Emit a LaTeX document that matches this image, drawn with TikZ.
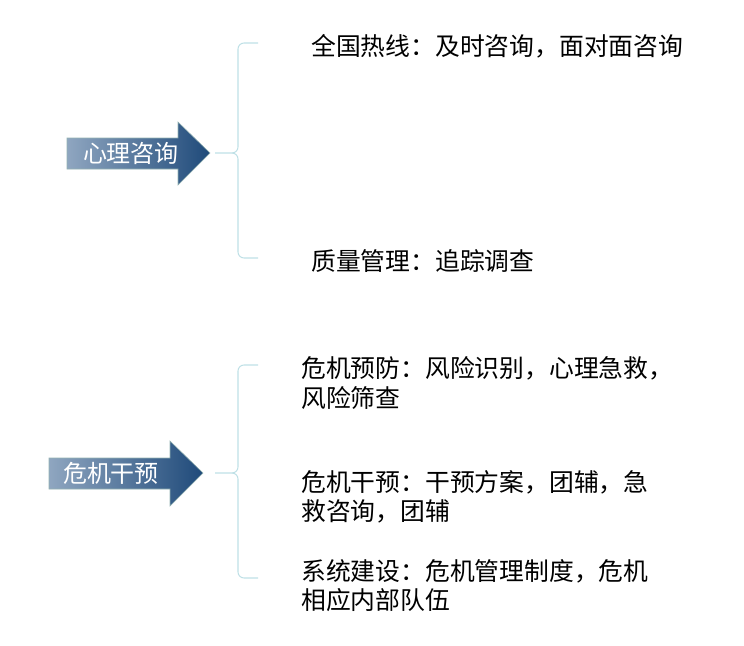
\documentclass[tikz,border=0pt]{standalone}
\usepackage{fontspec}
\setmainfont{Noto Sans CJK SC}
\begin{document}
\begin{tikzpicture}[x=0.75pt,y=-0.75pt,
  arr/.style={draw=gray!60!teal!60, left color=arrL, right color=arrR},
  brc/.style={draw=braceC, line width=0.8pt},
  lbl/.style={anchor=west, inner sep=0pt, font=\fontsize{18.6}{21.8}\selectfont, align=left},
  albl/.style={text=white, inner sep=0pt, font=\fontsize{18}{20}\selectfont}]
\definecolor{arrL}{HTML}{8FA6C0}
\definecolor{arrR}{HTML}{1F4A7A}
\definecolor{braceC}{HTML}{BFE0E6}
\useasboundingbox (0,0) rectangle (744,646);
% arrow 1
\path[arr] (67,138) -- (178,138) -- (178,122) -- (210,153) -- (178,185) -- (178,169) -- (67,169) -- cycle;
\node[albl] (a1) at (131,153) {心理咨询};
% arrow 2
\path[arr] (49,458) -- (170,458) -- (170,441) -- (203,473) -- (170,506) -- (170,489) -- (49,489) -- cycle;
\node[albl] (a2) at (111,473) {危机干预};
% braces
\coordinate (b1t) at (258,43); \coordinate (b1m) at (215,153); \coordinate (b1b) at (258,258);
\draw[brc] (b1t) -- (244,43) to[out=180,in=90] (238,49) -- (238,147) to[out=-90,in=0] (232,153) -- (b1m);
\draw[brc] (232,153) to[out=0,in=90] (238,159) -- (238,252) to[out=-90,in=180] (244,258) -- (b1b);
\coordinate (b2t) at (258,365); \coordinate (b2m) at (215,473); \coordinate (b2b) at (258,578);
\draw[brc] (b2t) -- (244,365) to[out=180,in=90] (238,371) -- (238,467) to[out=-90,in=0] (232,473) -- (b2m);
\draw[brc] (232,473) to[out=0,in=90] (238,479) -- (238,572) to[out=-90,in=180] (244,578) -- (b2b);
% labels
\node[lbl] (t1) at (311,46) {全国热线：及时咨询，面对面咨询};
\node[lbl] (t2) at (311,261) {质量管理：追踪调查};
\node[lbl] (t3) at (301,383) {危机预防：风险识别，心理急救，\\风险筛查};
\node[lbl] (t4) at (301,497) {危机干预：干预方案，团辅，急\\救咨询，团辅};
\node[lbl] (t5) at (301,586) {系统建设：危机管理制度，危机\\相应内部队伍};
\end{tikzpicture}
\end{document}
